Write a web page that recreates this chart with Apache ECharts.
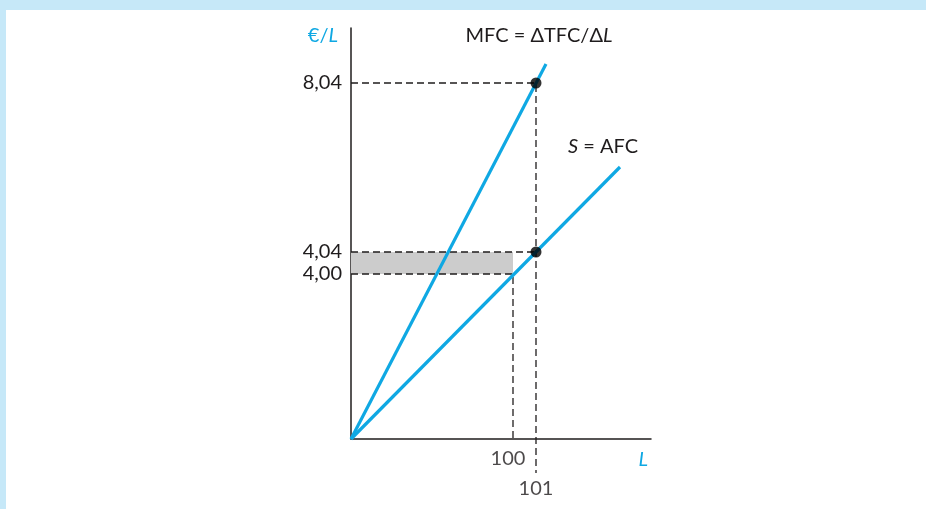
<!DOCTYPE html>
<html>
<head>
<meta charset="utf-8">
<script src="https://cdn.jsdelivr.net/npm/echarts@6/dist/echarts.min.js"></script>
<style>
  html, body { margin: 0; padding: 0; background: #c6e8f8; width: 926px; height: 509px; overflow: hidden; }
  #chart { position: absolute; left: 6px; top: 10px; width: 920px; height: 499px; background: #ffffff; }
</style>
</head>
<body>
<div id="chart"></div>
<script>
// Schematic diagram units (the original figure is not drawn to scale)
const xTickPos = [162, 185];
const xTickLabels = ['100', '101'];
const yTickPos = [165, 187, 356];
const yTickLabels = ['4,00', '4,04', '8,04'];

const mfcLine = [[0, 0], [195, 375]];
const afcLine = [[0, 0], [269, 272]];
const points = [[185, 356], [185, 187]];

const guide8 = [[0, 356], [185, 356], [185, -34]];
const guide404 = [[0, 187], [185, 187]];
const guide400 = [[0, 165], [162, 165], [162, 0]];
const shadedBox = [[0, 165], [162, 187]];

const BLUE = '#0fa8e3';
const INK = '#1f1c1d';
const FONT = 'Lato, "Open Sans", sans-serif';
const FS = 20;

const chart = echarts.init(document.getElementById('chart'));

const dashStyle = { color: INK, width: 1.3, type: [7, 4] };

chart.setOption({
  animation: false,
  grid: { left: 345, top: 18, width: 300, height: 411 },
  xAxis: {
    type: 'value', min: 0, max: 300,
    axisLine: { show: true, lineStyle: { color: INK, width: 1.5 } },
    axisTick: { show: false },
    splitLine: { show: false },
    axisLabel: { show: false },
    name: 'L',
    nameLocation: 'end',
    nameGap: -3,
    nameTextStyle: { color: BLUE, fontStyle: 'italic', fontSize: FS, fontFamily: FONT, verticalAlign: 'top', align: 'right', padding: [11, 0, 0, 0] }
  },
  yAxis: {
    type: 'value', min: 0, max: 411,
    axisLine: { show: true, lineStyle: { color: INK, width: 1.5 } },
    axisTick: { show: false },
    splitLine: { show: false },
    axisLabel: {
      show: true,
      customValues: yTickPos,
      formatter: function (v) { return yTickLabels[yTickPos.indexOf(v)]; },
      color: INK, fontSize: FS, fontFamily: FONT, margin: 9
    },
    name: '€/{i|L}',
    nameLocation: 'end',
    nameGap: -8,
    nameTextStyle: {
      color: BLUE, fontSize: FS, fontFamily: FONT, align: 'right', verticalAlign: 'middle', padding: [0, 13, 0, 0],
      rich: { i: { fontStyle: 'italic', color: BLUE, fontSize: FS, fontFamily: FONT } }
    }
  },
  series: [
    {
      name: 'shade', type: 'line', data: [], silent: true,
      markArea: {
        silent: true,
        itemStyle: { color: '#cccccc' },
        data: [[{ coord: shadedBox[0] }, { coord: shadedBox[1] }]]
      }
    },
    { name: 'g8', type: 'line', data: guide8, clip: false, symbol: 'none', lineStyle: dashStyle, silent: true },
    { name: 'g404', type: 'line', data: guide404, symbol: 'none', lineStyle: dashStyle, silent: true },
    { name: 'g400', type: 'line', data: guide400, symbol: 'none', lineStyle: dashStyle, silent: true },
    {
      name: 'MFC', type: 'line', symbol: 'none', clip: false,
      lineStyle: { color: BLUE, width: 3.2 },
      data: mfcLine,
      endLabel: {
        show: true, distance: 0, align: 'center', verticalAlign: 'middle', offset: [-7, -28],
        formatter: 'MFC = ΔTFC/Δ{i|L}',
        color: INK, fontSize: FS, fontFamily: FONT,
        rich: { i: { fontStyle: 'italic', color: INK, fontSize: FS, fontFamily: FONT } }
      }
    },
    {
      name: 'AFC', type: 'line', symbol: 'none', clip: false,
      lineStyle: { color: BLUE, width: 3.2 },
      data: afcLine,
      endLabel: {
        show: true, distance: 0, align: 'center', verticalAlign: 'middle', offset: [-17, -20],
        formatter: '{i|S} = AFC',
        color: INK, fontSize: FS, fontFamily: FONT,
        rich: { i: { fontStyle: 'italic', color: INK, fontSize: FS, fontFamily: FONT } }
      }
    },
    {
      name: 'points', type: 'scatter', data: points, symbol: 'circle', symbolSize: 11,
      itemStyle: { color: '#000000' }, z: 5
    },
    {
      name: 'xticks', type: 'scatter', symbolSize: 0, clip: false, silent: true,
      data: xTickPos.map(function (p, i) {
        return {
          value: [p, 0],
          label: {
            show: true, position: 'bottom',
            offset: i === 0 ? [-5, 5] : [0, 35],
            formatter: xTickLabels[i],
            color: INK, fontSize: FS, fontFamily: FONT
          }
        };
      })
    }
  ]
});
</script>
</body>
</html>
